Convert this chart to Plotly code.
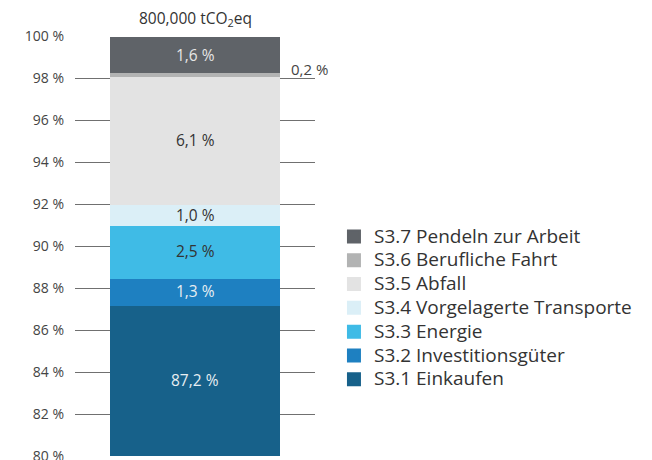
import plotly.graph_objects as go

categories = ["S3.1 Einkaufen", "S3.2 Investitionsgüter", "S3.3 Energie",
              "S3.4 Vorgelagerte Transporte", "S3.5 Abfall",
              "S3.6 Berufliche Fahrt", "S3.7 Pendeln zur Arbeit"]
values = [87.2, 1.3, 2.5, 1.0, 6.1, 0.2, 1.6]
labels = ["87,2 %", "1,3 %", "2,5 %", "1,0 %", "6,1 %", "0,2 %", "1,6 %"]
colors = ["#17618a", "#1e80c1", "#3fbbe6", "#dbeff7", "#e3e3e3", "#b2b3b3", "#5f6368"]
text_colors = ["#e8eef2", "#e8eef2", "#333333", "#333333", "#333333", "#333333", "#e6e6e6"]
bar_name = ["800,000 tCO<sub>2</sub>eq"]
y_ticks = [80, 82, 84, 86, 88, 90, 92, 94, 96, 98, 100]
y_ticktext = [f"{v} %" for v in y_ticks]
y_min, y_max = 80, 100

FONT = "'Open Sans', sans-serif"

fig = go.Figure()
for cat, v, c in zip(categories, values, colors):
    fig.add_trace(go.Bar(x=bar_name, y=[v],
                         name=f'<span style="font-size:19px">{cat}</span>',
                         marker=dict(color=c, line=dict(width=2, color=c)),
                         width=0.696, hoverinfo="skip"))

# segment labels
cum = 0
for v, lab, tc in zip(values, labels, text_colors):
    lo, hi = cum, cum + v
    cum = hi
    lo_vis = max(lo, y_min)
    mid = (lo_vis + hi) / 2
    if v < 0.5:
        fig.add_annotation(x=0.89, xref="paper", y=98, yref="y", text=lab, showarrow=False,
                           xanchor="left", yanchor="bottom", yshift=-3,
                           font=dict(family=FONT, size=15, color="#444444"))
    else:
        fig.add_annotation(x=bar_name[0], y=mid, text=lab, showarrow=False,
                           font=dict(family=FONT, size=15.5, color=tc))

# page body has an 8px margin: shrink the figure and shift margins accordingly
fig.update_layout(
    barmode="stack",
    width=644, height=452,
    margin=dict(l=67, r=337, t=28, b=4, autoexpand=False),
    paper_bgcolor="white", plot_bgcolor="white",
    font=dict(family=FONT, size=14, color="#444444"),
    showlegend=True,
    legend=dict(traceorder="reversed", x=1.079, xanchor="left", y=0.563, yanchor="top",
                font=dict(family=FONT, size=16, color="#333333"), bgcolor="rgba(0,0,0,0)"),
    xaxis=dict(showticklabels=False, showgrid=False, zeroline=False, showline=False,
               fixedrange=True, automargin=False),
    yaxis=dict(range=[y_min, y_max], tickvals=y_ticks, ticktext=y_ticktext,
               showgrid=True, gridcolor="#707070", gridwidth=1, zeroline=False,
               showline=False, ticks="", ticklabelstandoff=10, ticklabeloverflow="allow",
               automargin=False,
               tickfont=dict(family=FONT, size=14, color="#444444")),
)
fig.add_annotation(x=bar_name[0], y=1, yref="paper", yshift=4, text=bar_name[0], showarrow=False,
                   yanchor="bottom", font=dict(family=FONT, size=15.5, color="#333333"))

fig.write_html("out.html")
